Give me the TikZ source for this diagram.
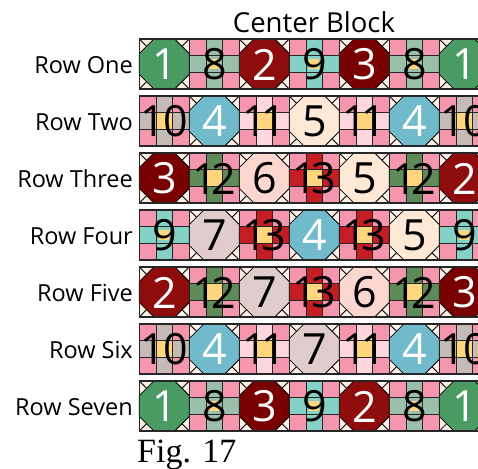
\documentclass[tikz,border=0pt]{standalone}
\usepackage{fontspec}
\setmainfont{Open Sans}
\newfontfamily\figfont{Liberation Serif}
\definecolor{bgc}{HTML}{FDEEE6}
\definecolor{pinkc}{HTML}{F497AE}
\definecolor{yelc}{HTML}{FFD57E}
\definecolor{cA}{HTML}{4A9A64}
\definecolor{cB}{HTML}{8E0C0C}
\definecolor{cC}{HTML}{780000}
\definecolor{cD}{HTML}{70BACB}
\definecolor{cE}{HTML}{FFE8D6}
\definecolor{cF}{HTML}{FCD7D0}
\definecolor{cG}{HTML}{E0CCCC}
\definecolor{cH}{HTML}{9BBFAA}
\definecolor{cI}{HTML}{85D1C5}
\definecolor{cJ}{HTML}{C6BAB6}
\definecolor{cK}{HTML}{FDD6DE}
\definecolor{cL}{HTML}{5E8B58}
\definecolor{cM}{HTML}{C41E24}
\tikzset{
  lbl/.style={anchor=east, inner sep=0pt, font=\fontsize{23.5}{24}\selectfont},
  num/.style={inner sep=0pt, font=\fontsize{43}{43}\selectfont},
  octline/.style={draw=black, line width=0.8pt},
  gridline/.style={draw=black!85, line width=0.8pt},
  rowframe/.style={draw=black!85, line width=1.6pt},
}
% octagon block: x, y, fill, text colour, number
\newcommand\octblk[5]{%
  \fill[bgc] (#1,#2) rectangle ++(50,50);
  \draw[octline] (#1,#2) -- ++(14.6,14.6);
  \draw[octline] (#1+50,#2) -- ++(-14.6,14.6);
  \draw[octline] (#1,#2+50) -- ++(14.6,-14.6);
  \draw[octline] (#1+50,#2+50) -- ++(-14.6,-14.6);
  \draw[octline, fill=#3] (#1+14.6,#2) -- (#1+35.4,#2) -- (#1+50,#2+14.6) -- (#1+50,#2+35.4)
     -- (#1+35.4,#2+50) -- (#1+14.6,#2+50) -- (#1,#2+35.4) -- (#1,#2+14.6) -- cycle;
  \node[num, text=#4] at (#1+25,#2+25.5) {#5};
}
% nine-patch block: x, y, edge colour, number, centre half-size
\newcommand\npblk[5]{%
  \fill[#3] (#1,#2) rectangle ++(50,50);
  \fill[pinkc] (#1,#2) rectangle ++(16.667,16.667);
  \fill[pinkc] (#1+33.333,#2) rectangle ++(16.667,16.667);
  \fill[pinkc] (#1,#2+33.333) rectangle ++(16.667,16.667);
  \fill[pinkc] (#1+33.333,#2+33.333) rectangle ++(16.667,16.667);
  \fill[yelc] (#1+25-#5,#2+25-#5) rectangle (#1+25+#5,#2+25+#5);
  \draw[gridline] (#1+16.667,#2) -- ++(0,50) (#1+33.333,#2) -- ++(0,50)
     (#1,#2+16.667) -- ++(50,0) (#1,#2+33.333) -- ++(50,0);
  \node[num, text=black] at (#1+25,#2+25.5) {#4};
}
\newcommand\tens[1]{1\kern-5pt#1}
\begin{document}
\begin{tikzpicture}[x=1pt,y=-1pt]
\useasboundingbox (0,0) rectangle (478,468);
\clip (0,0) rectangle (478,468);
\node[inner sep=0pt, font=\fontsize{27.5}{28}\selectfont] (title) at (314,22) {Center Block};
% rows
\foreach \lab/\rowy [count=\r] in {Row One/39, Row Two/96, Row Three/153, Row Four/210, Row Five/267, Row Six/324, Row Seven/381}{
  \node[lbl] (row\r) at (133,\rowy+26) {\lab};
}
% Row One
\octblk{139.3}{39}{cA}{white}{1}
\npblk{189.3}{39}{cH}{8}{5}
\octblk{239.3}{39}{cB}{white}{2}
\npblk{289.3}{39}{cI}{9}{5}
\octblk{339.3}{39}{cC}{white}{3}
\npblk{389.3}{39}{cH}{8}{5}
\octblk{439.3}{39}{cA}{white}{1}
% Row Two
\npblk{139.3}{96}{cJ}{1\kern-2pt0}{8.333}
\octblk{189.3}{96}{cD}{white}{4}
\npblk{239.3}{96}{cK}{\tens{1}}{8.333}
\octblk{289.3}{96}{cE}{black}{5}
\npblk{339.3}{96}{cK}{\tens{1}}{8.333}
\octblk{389.3}{96}{cD}{white}{4}
\npblk{439.3}{96}{cJ}{1\kern-2pt0}{8.333}
% Row Three
\octblk{139.3}{153}{cC}{white}{3}
\npblk{189.3}{153}{cL}{\tens{2}}{8.333}
\octblk{239.3}{153}{cF}{black}{6}
\npblk{289.3}{153}{cM}{\tens{3}}{8.333}
\octblk{339.3}{153}{cE}{black}{5}
\npblk{389.3}{153}{cL}{\tens{2}}{8.333}
\octblk{439.3}{153}{cB}{white}{2}
% Row Four
\npblk{139.3}{210}{cI}{9}{5}
\octblk{189.3}{210}{cG}{black}{7}
\npblk{239.3}{210}{cM}{\tens{3}}{8.333}
\octblk{289.3}{210}{cD}{white}{4}
\npblk{339.3}{210}{cM}{\tens{3}}{8.333}
\octblk{389.3}{210}{cE}{black}{5}
\npblk{439.3}{210}{cI}{9}{5}
% Row Five
\octblk{139.3}{267}{cB}{white}{2}
\npblk{189.3}{267}{cL}{\tens{2}}{8.333}
\octblk{239.3}{267}{cG}{black}{7}
\npblk{289.3}{267}{cM}{\tens{3}}{8.333}
\octblk{339.3}{267}{cF}{black}{6}
\npblk{389.3}{267}{cL}{\tens{2}}{8.333}
\octblk{439.3}{267}{cC}{white}{3}
% Row Six
\npblk{139.3}{324}{cJ}{1\kern-2pt0}{8.333}
\octblk{189.3}{324}{cD}{white}{4}
\npblk{239.3}{324}{cK}{\tens{1}}{8.333}
\octblk{289.3}{324}{cG}{black}{7}
\npblk{339.3}{324}{cK}{\tens{1}}{8.333}
\octblk{389.3}{324}{cD}{white}{4}
\npblk{439.3}{324}{cJ}{1\kern-2pt0}{8.333}
% Row Seven
\octblk{139.3}{381}{cA}{white}{1}
\npblk{189.3}{381}{cH}{8}{5}
\octblk{239.3}{381}{cC}{white}{3}
\npblk{289.3}{381}{cI}{9}{5}
\octblk{339.3}{381}{cB}{white}{2}
\npblk{389.3}{381}{cH}{8}{5}
\octblk{439.3}{381}{cA}{white}{1}
% frames
\foreach \rowy in {39,96,153,210,267,324,381}{
  \draw[rowframe] (139.3,\rowy) rectangle (489.3,\rowy+50);
  \foreach \bx in {189.3,239.3,289.3,339.3,389.3,439.3}{
    \draw[draw=black!85, line width=1.2pt] (\bx,\rowy) -- (\bx,\rowy+50);
  }
}
\node[inner sep=0pt, anchor=base west, font=\figfont\fontsize{34}{34}\selectfont] (fig) at (137,462) {Fig. 17};
\end{tikzpicture}
\end{document}
